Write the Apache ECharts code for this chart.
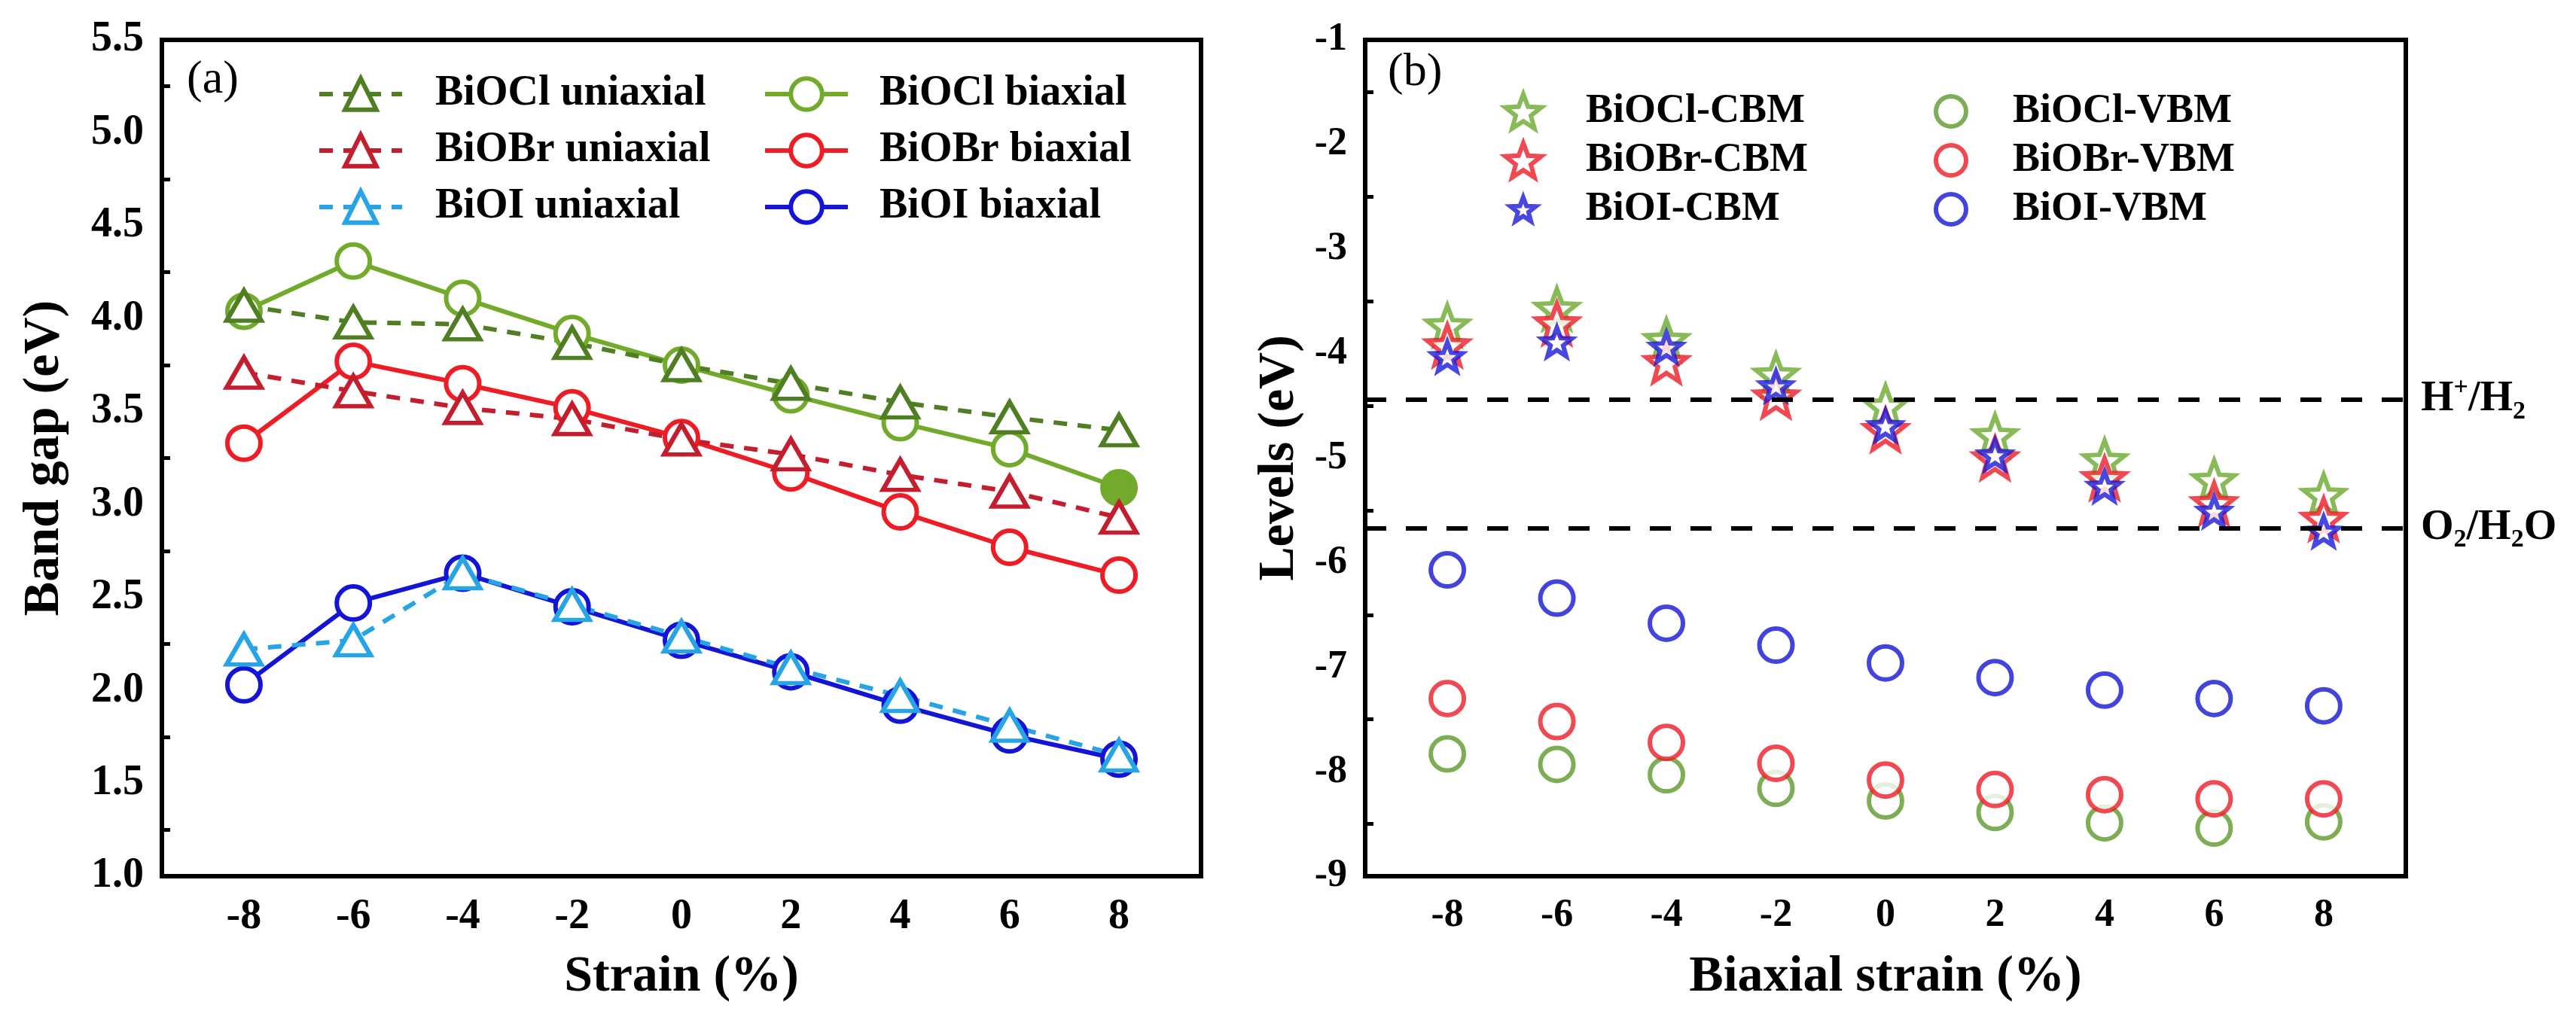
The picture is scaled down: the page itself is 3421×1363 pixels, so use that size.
<!DOCTYPE html>
<html>
<head>
<meta charset="utf-8">
<script src="https://cdn.jsdelivr.net/npm/echarts@6/dist/echarts.min.js"></script>
<style>
  html, body { margin: 0; background: #fff; }
  #main { width: 3421px; height: 1363px; }
</style>
</head>
<body>
<div id="main"></div>
<script>
// strain points and tick categories (odd ones carry the minor ticks)
const strain = [-8, -6, -4, -2, 0, 2, 4, 6, 8];
const tickCats = ['-9', '-8', '-7', '-6', '-5', '-4', '-3', '-2', '-1', '0', '1', '2', '3', '4', '5', '6', '7', '8', '9'];

// (a) band gap, eV
const bioclUni = [4.07, 3.98, 3.97, 3.87, 3.75, 3.65, 3.55, 3.47, 3.40];
const bioclBi  = [4.04, 4.31, 4.11, 3.92, 3.75, 3.59, 3.44, 3.30, 3.09];
const biobrUni = [3.71, 3.61, 3.52, 3.46, 3.35, 3.27, 3.16, 3.07, 2.93];
const biobrBi  = [3.33, 3.77, 3.65, 3.52, 3.36, 3.17, 2.96, 2.77, 2.62];
const bioiUni  = [2.22, 2.27, 2.63, 2.46, 2.29, 2.12, 1.97, 1.81, 1.65];
const bioiBi   = [2.03, 2.47, 2.63, 2.45, 2.27, 2.10, 1.92, 1.76, 1.63];

// (b) band edge levels, eV
const cbmCl = [-3.73, -3.57, -3.87, -4.20, -4.50, -4.78, -5.02, -5.21, -5.35];
const cbmBr = [-3.92, -3.71, -4.08, -4.41, -4.73, -5.00, -5.19, -5.43, -5.58];
const cbmI  = [-4.03, -3.89, -3.94, -4.31, -4.69, -4.97, -5.27, -5.51, -5.70];
const vbmCl = [-7.83, -7.93, -8.03, -8.16, -8.28, -8.39, -8.49, -8.54, -8.48];
const vbmBr = [-7.30, -7.52, -7.72, -7.92, -8.08, -8.17, -8.22, -8.26, -8.26];
const vbmI  = [-6.07, -6.34, -6.58, -6.79, -6.96, -7.10, -7.22, -7.30, -7.37];

// redox reference levels
const refLevels = [-4.44, -5.67];
const refNames = ['{m|H}{s|+}{m|/H}{d|2}', '{m|O}{d|2}{m|/H}{d|2}{m|O}'];

const FONT = "'Liberation Serif', 'Times New Roman', serif";
const STAR = 'path://M50,0 L62.34,33.01 L97.55,34.55 L69.97,56.49 L79.39,90.45 L50,71 L20.61,90.45 L30.03,56.49 L2.45,34.55 L37.66,33.01 Z';

const pts = vals => strain.map((s, i) => [String(s), vals[i]]);
const isEven = (i, v) => Number(v) % 2 === 0;
const isOdd = (i, v) => Number(v) % 2 !== 0;
const black = { color: '#000', width: 6 };
const tickStyle = { color: '#000', width: 5 };

function majorX(gridIndex, name, fs) {
  return {
    type: 'category', gridIndex, data: tickCats, position: 'bottom', boundaryGap: true,
    axisLine: { lineStyle: black },
    axisTick: { inside: true, alignWithLabel: true, length: 21, interval: isEven, lineStyle: tickStyle },
    axisLabel: { interval: isEven, margin: 27, color: '#000', fontFamily: FONT, fontWeight: 'bold', fontSize: fs },
    splitLine: { show: false },
    name, nameLocation: 'middle', nameGap: 100,
    nameTextStyle: { fontFamily: FONT, fontWeight: 'bold', fontSize: 68, color: '#000' }
  };
}

function minorX(gridIndex) {
  return {
    type: 'category', gridIndex, data: tickCats, position: 'bottom', boundaryGap: true,
    axisLine: { show: false },
    axisTick: { inside: true, alignWithLabel: true, length: 11, interval: isOdd, lineStyle: tickStyle },
    axisLabel: { show: false },
    splitLine: { show: false }
  };
}

function valY(gridIndex, min, max, fmt, fs, name, gap) {
  return {
    type: 'value', gridIndex, min, max, interval: max - min > 5 ? 1 : 0.5,
    axisLine: { show: true, lineStyle: black },
    axisTick: { inside: true, length: 21, lineStyle: tickStyle },
    minorTick: { show: true, splitNumber: 2, length: 11, lineStyle: tickStyle },
    axisLabel: { formatter: fmt, margin: 24, color: '#000', fontFamily: FONT, fontWeight: 'bold', fontSize: fs },
    splitLine: { show: false },
    name, nameLocation: 'middle', nameGap: gap,
    nameTextStyle: { fontFamily: FONT, fontWeight: 'bold', fontSize: 68, color: '#000' }
  };
}

function lineSeries(name, vals, color, dashed, symbol, filledIdx) {
  return {
    type: 'line', name, xAxisIndex: 0, yAxisIndex: 0,
    data: pts(vals).map((p, i) => i === filledIdx ? { value: p, itemStyle: { color } } : p),
    symbol, symbolSize: symbol === 'triangle' ? [46, 40] : 44,
    lineStyle: { color, width: 6, type: dashed ? [18, 14] : 'solid' },
    itemStyle: { color: '#fff', borderColor: color, borderWidth: 6 },
    emphasis: { disabled: true }
  };
}

function dotSeries(name, vals, color, symbol, size) {
  return {
    type: 'scatter', name, xAxisIndex: 2, yAxisIndex: 1,
    data: pts(vals), symbol, symbolSize: size,
    itemStyle: { color: '#fff', borderColor: color, borderWidth: 6 },
    emphasis: { disabled: true }
  };
}

function leg(names, left, top, w, h, gap, pad, fs) {
  return {
    data: names, orient: 'vertical', left, top, itemWidth: w, itemHeight: h, itemGap: gap,
    padding: 0, selectedMode: false,
    textStyle: { fontFamily: FONT, fontSize: fs, fontWeight: 'bold', color: '#000', padding: [0, 0, 0, pad], lineHeight: fs },
    lineStyle: { width: 6 }, itemStyle: { borderWidth: 6 }
  };
}

const series = [
  lineSeries('BiOCl biaxial', bioclBi, '#72ab2b', false, 'circle', 8),
  lineSeries('BiOBr biaxial', biobrBi, '#ee1c25', false, 'circle'),
  lineSeries('BiOI biaxial', bioiBi, '#1414d6', false, 'circle'),
  lineSeries('BiOCl uniaxial', bioclUni, '#4f7f22', true, 'triangle'),
  lineSeries('BiOBr uniaxial', biobrUni, '#c41e2e', true, 'triangle'),
  lineSeries('BiOI uniaxial', bioiUni, '#27a4e6', true, 'triangle'),
  dotSeries('BiOCl-VBM', vbmCl, '#5c9a2a', 'circle', 44),
  dotSeries('BiOBr-VBM', vbmBr, '#ee1c25', 'circle', 44),
  dotSeries('BiOI-VBM', vbmI, '#1414d6', 'circle', 44),
  dotSeries('BiOCl-CBM', cbmCl, '#6aaa2e', STAR, [54, 52]),
  dotSeries('BiOBr-CBM', cbmBr, '#ee1c25', STAR, [54, 52]),
  dotSeries('BiOI-CBM', cbmI, '#1a1ad8', STAR, [40, 38])
];

series[6].markLine = {
  silent: true, symbol: 'none', animation: false,
  lineStyle: { color: '#000', width: 6, type: [28, 26] },
  label: {
    position: 'end', distance: 20, formatter: p => p.name,
    rich: {
      m: { fontFamily: FONT, fontWeight: 'bold', fontSize: 56, color: '#000', lineHeight: 66 },
      s: { fontFamily: FONT, fontWeight: 'bold', fontSize: 34, color: '#000', lineHeight: 34, verticalAlign: 'top' },
      d: { fontFamily: FONT, fontWeight: 'bold', fontSize: 34, color: '#000', lineHeight: 34, verticalAlign: 'bottom' }
    }
  },
  data: refLevels.map((v, i) => ({ yAxis: v, name: refNames[i] }))
};

const chart = echarts.init(document.getElementById('main'));
chart.setOption({
  backgroundColor: '#fff',
  animation: false,
  title: [
    { text: '(a)', left: 248, top: 76, padding: 0, textStyle: { fontFamily: FONT, fontWeight: 'normal', fontSize: 62, color: '#000' } },
    { text: '(b)', left: 1843, top: 66, padding: 0, textStyle: { fontFamily: FONT, fontWeight: 'normal', fontSize: 62, color: '#000' } }
  ],
  grid: [
    { left: 215, right: 1826, top: 53, bottom: 199, show: true, borderColor: '#000', borderWidth: 6, outerBoundsMode: 'none' },
    { left: 1813, right: 226, top: 53, bottom: 199, show: true, borderColor: '#000', borderWidth: 6, outerBoundsMode: 'none' }
  ],
  xAxis: [
    majorX(0, 'Strain (%)', 56),
    minorX(0),
    majorX(1, 'Biaxial strain (%)', 52),
    minorX(1)
  ],
  yAxis: [
    valY(0, 1, 5.5, v => v.toFixed(1), 56, 'Band gap (eV)', 122),
    valY(1, -9, -1, v => String(v), 52, 'Levels (eV)', 80)
  ],
  legend: [
    leg(['BiOCl uniaxial', 'BiOBr uniaxial', 'BiOI uniaxial'], 421, 97, 110, 52, 19, 39, 56),
    leg(['BiOCl biaxial', 'BiOBr biaxial', 'BiOI biaxial'], 1013, 97, 110, 52, 19, 37, 56),
    leg(['BiOCl-CBM', 'BiOBr-CBM'], 1996, 121, 48, 46, 11, 54, 54),
    leg(['BiOI-CBM'], 2003, 251, 34, 32, 11, 61, 54),
    leg(['BiOCl-VBM', 'BiOBr-VBM', 'BiOI-VBM'], 2568, 121, 40, 44, 11, 57, 54)
  ],
  series
});
</script>
</body>
</html>
